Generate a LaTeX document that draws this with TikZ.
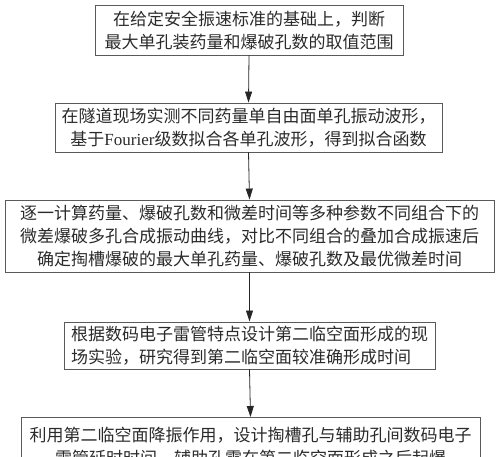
\documentclass[tikz,border=0pt]{standalone}
\usepackage{fontspec}
\setmainfont{Liberation Serif}
\newfontfamily\cjk{Noto Sans CJK SC}
\usetikzlibrary{arrows.meta}
\definecolor{txt}{HTML}{2A2A2A}
\definecolor{frame}{HTML}{5A5A5A}
\begin{document}
\begin{tikzpicture}[x=1pt,y=-1pt,
  box/.style={draw=frame,line width=0.9pt,text=txt,inner sep=0pt,
    font=\cjk\fontsize{17}{23}\selectfont},
  flow/.style={draw=black!85,line width=0.8pt,-{Triangle[width=7pt,length=11pt]}}]
\useasboundingbox (0,0) rectangle (500,457);
\clip (0,0) rectangle (500,457);
\node[box,align=center,minimum width=308pt,minimum height=50pt] (b1) at (249,30)
  {在给定安全振速标准的基础上，判断\\最大单孔装药量和爆破孔数的取值范围};
\node[box,align=center,minimum width=387pt,minimum height=49pt] (b2) at (248.5,127.5)
  {在隧道现场实测不同药量单自由面单孔振动波形，\\基于{\rmfamily Fourier}级数拟合各单孔波形，得到拟合函数};
\node[box,align=center,minimum width=489pt,minimum height=72pt] (b3) at (249.5,236)
  {逐一计算药量、爆破孔数和微差时间等多种参数不同组合下的\\微差爆破多孔合成振动曲线，对比不同组合的叠加合成振速后\\确定掏槽爆破的最大单孔药量、爆破孔数及最优微差时间};
\node[box,align=left,minimum width=371pt,minimum height=47pt] (b4) at (249.5,345.5)
  {根据数码电子雷管特点设计第二临空面形成的现\\场实验，研究得到第二临空面较准确形成时间};
\node[box,align=center,anchor=north,minimum width=459pt,inner ysep=10pt] (b5) at (250.5,417)
  {利用第二临空面降振作用，设计掏槽孔与辅助孔间数码电子\\雷管延时时间，辅助孔需在第二临空面形成之后起爆};
\draw[flow] (b1.south) -- (b2.north);
\draw[flow] (b2.south) -- (b3.north);
\draw[flow] (b3.south) -- (b4.north);
\draw[flow] (b4.south) -- (b5.north);
\end{tikzpicture}
\end{document}
